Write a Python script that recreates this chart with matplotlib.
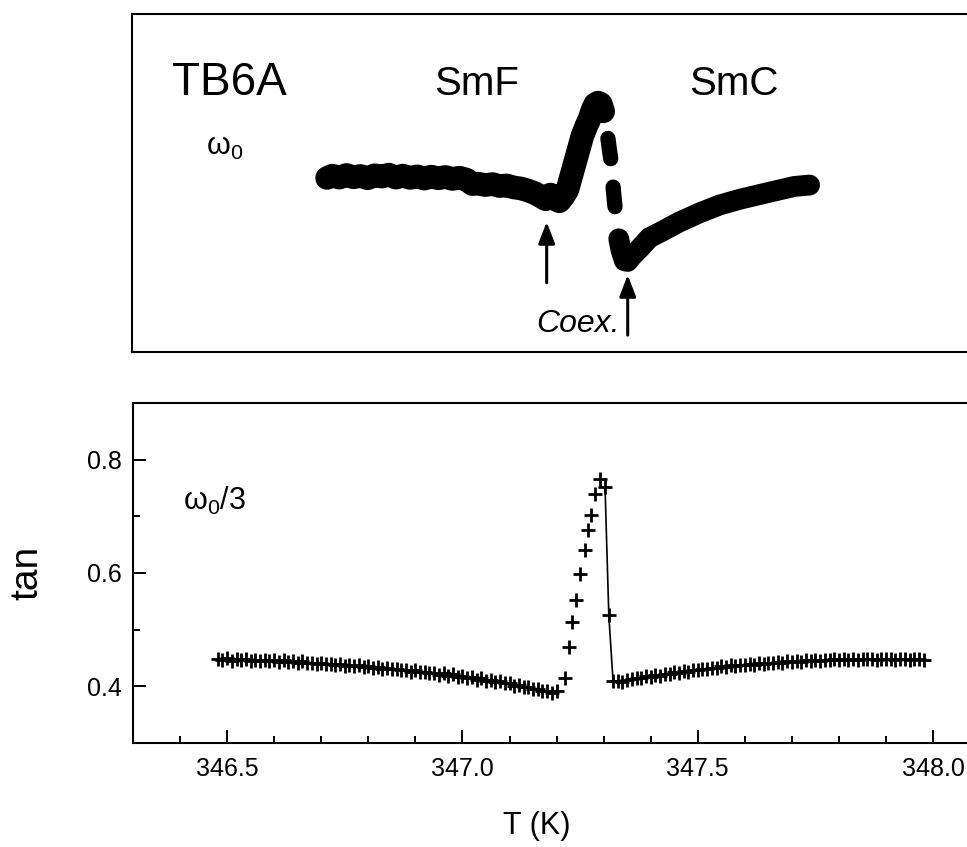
import numpy as np
import matplotlib
matplotlib.use("Agg")
import matplotlib.pyplot as plt
from matplotlib.ticker import MultipleLocator, FixedLocator

plt.rcParams['font.family'] = ['Liberation Sans', 'DejaVu Sans']
plt.rcParams['mathtext.fontset'] = 'custom'
plt.rcParams['mathtext.rm'] = 'Liberation Sans'
plt.rcParams['mathtext.it'] = 'Liberation Sans'

# ---- omega_0 trace (arbitrary units) ----
t_smf = [346.714, 346.725, 346.740, 346.755, 346.770, 346.785, 346.800, 346.815,
         346.830, 346.845, 346.860, 346.875, 346.890, 346.905, 346.920, 346.935,
         346.950, 346.965, 346.980, 346.995, 347.010, 347.022, 347.035, 347.050,
         347.065, 347.080, 347.095, 347.110, 347.125, 347.140, 347.155, 347.168,
         347.178, 347.188, 347.198, 347.207, 347.216, 347.224, 347.232, 347.240,
         347.248, 347.256, 347.264, 347.271, 347.277, 347.283, 347.289, 347.295,
         347.300]
s_smf = [0.515, 0.522, 0.516, 0.524, 0.517, 0.521, 0.514, 0.523,
         0.519, 0.525, 0.516, 0.522, 0.515, 0.520, 0.513, 0.519,
         0.514, 0.518, 0.512, 0.516, 0.510, 0.497, 0.498, 0.494,
         0.497, 0.491, 0.493, 0.487, 0.484, 0.478, 0.470, 0.460,
         0.452, 0.466, 0.452, 0.446, 0.462, 0.480, 0.520, 0.560,
         0.600, 0.640, 0.668, 0.690, 0.715, 0.733, 0.738, 0.734,
         0.712]
t_gap1 = [347.310, 347.313, 347.316]
s_gap1 = [0.632, 0.600, 0.572]
t_gap2 = [347.321, 347.323, 347.325]
s_gap2 = [0.488, 0.458, 0.430]
t_smc = [347.333, 347.338, 347.345, 347.352, 347.360, 347.377, 347.398, 347.430,
         347.462, 347.505, 347.547, 347.590, 347.632, 347.675, 347.706, 347.738]
s_smc = [0.335, 0.300, 0.270, 0.268, 0.282, 0.306, 0.338, 0.361,
         0.385, 0.412, 0.435, 0.452, 0.466, 0.480, 0.490, 0.494]

# ---- tan at omega_0/3 ----
t_low = [346.48, 346.49, 346.50, 346.51, 346.52, 346.53, 346.54, 346.55, 346.56,
         346.57, 346.58, 346.59, 346.60, 346.61, 346.62, 346.63, 346.64, 346.65,
         346.66, 346.67, 346.68, 346.69, 346.70, 346.71, 346.72, 346.73, 346.74,
         346.75, 346.76, 346.77, 346.78, 346.79, 346.80, 346.81, 346.82, 346.83,
         346.84, 346.85, 346.86, 346.87, 346.88, 346.89, 346.90, 346.91, 346.92,
         346.93, 346.94, 346.95, 346.96, 346.97, 346.98, 346.99, 347.00, 347.01,
         347.02, 347.03, 347.04, 347.05, 347.06, 347.07, 347.08, 347.09, 347.10,
         347.11, 347.12, 347.13, 347.14, 347.15, 347.16, 347.17, 347.18, 347.19,
         347.20]
tan_low = [0.449, 0.446, 0.450, 0.445, 0.448, 0.446, 0.449, 0.445, 0.447,
           0.444, 0.447, 0.445, 0.446, 0.443, 0.446, 0.443, 0.444, 0.441,
           0.444, 0.441, 0.442, 0.440, 0.442, 0.439, 0.440, 0.437, 0.439,
           0.436, 0.438, 0.435, 0.437, 0.434, 0.435, 0.432, 0.434, 0.431,
           0.432, 0.430, 0.431, 0.428, 0.429, 0.426, 0.428, 0.425, 0.426,
           0.423, 0.424, 0.420, 0.423, 0.419, 0.421, 0.417, 0.419, 0.415,
           0.416, 0.412, 0.414, 0.410, 0.411, 0.407, 0.409, 0.405, 0.405,
           0.401, 0.402, 0.398, 0.399, 0.395, 0.396, 0.392, 0.391, 0.388,
           0.392]
t_peak = [347.218, 347.226, 347.233, 347.241, 347.250, 347.260, 347.267,
          347.273, 347.282, 347.292, 347.303, 347.311]
tan_peak = [0.414, 0.469, 0.513, 0.552, 0.599, 0.641, 0.675,
            0.703, 0.740, 0.765, 0.751, 0.525]
t_high = [347.32, 347.33, 347.34, 347.35, 347.36, 347.37, 347.38, 347.39, 347.40,
          347.41, 347.42, 347.43, 347.44, 347.45, 347.46, 347.47, 347.48, 347.49,
          347.50, 347.51, 347.52, 347.53, 347.54, 347.55, 347.56, 347.57, 347.58,
          347.59, 347.60, 347.61, 347.62, 347.63, 347.64, 347.65, 347.66, 347.67,
          347.68, 347.69, 347.70, 347.71, 347.72, 347.73, 347.74, 347.75, 347.76,
          347.77, 347.78, 347.79, 347.80, 347.81, 347.82, 347.83, 347.84, 347.85,
          347.86, 347.87, 347.88, 347.89, 347.90, 347.91, 347.92, 347.93, 347.94,
          347.95, 347.96, 347.97, 347.98]
tan_high = [0.409, 0.410, 0.408, 0.412, 0.413, 0.415, 0.414, 0.418, 0.417,
            0.420, 0.419, 0.422, 0.421, 0.425, 0.424, 0.427, 0.426, 0.429,
            0.428, 0.431, 0.430, 0.433, 0.432, 0.435, 0.434, 0.437, 0.435,
            0.438, 0.437, 0.440, 0.438, 0.441, 0.440, 0.442, 0.441, 0.443,
            0.442, 0.444, 0.443, 0.445, 0.443, 0.446, 0.444, 0.447, 0.445,
            0.447, 0.446, 0.448, 0.446, 0.448, 0.447, 0.449, 0.447, 0.449,
            0.448, 0.448, 0.447, 0.449, 0.448, 0.448, 0.447, 0.448, 0.448,
            0.447, 0.448, 0.448, 0.447]

x_ticks = [346.5, 347.0, 347.5, 348.0]
x_labels = ['346.5', '347.0', '347.5', '348.0']
y_ticks = [0.4, 0.6, 0.8]
y_labels = ['0.4', '0.6', '0.8']

XMIN, XMAX = 346.3, 348.11

fig = plt.figure(figsize=(9.67, 8.47), dpi=100)
ax1 = fig.add_axes([0.1365, 0.5844, 0.882, 0.399])
ax2 = fig.add_axes([0.1375, 0.1228, 0.881, 0.4014])

# upper panel: raw trace, drawn as a thick pen line
ax1.plot(t_smf, s_smf, color='black', lw=17, solid_capstyle='round',
         solid_joinstyle='round')
ax1.plot(t_gap1, s_gap1, color='black', lw=11, solid_capstyle='round')
ax1.plot(t_gap2, s_gap2, color='black', lw=11, solid_capstyle='round')
ax1.plot(t_smc, s_smc, color='black', lw=15, solid_capstyle='round',
         solid_joinstyle='round')
ax1.set_xlim(XMIN, XMAX)
ax1.set_ylim(0, 1)
ax1.set_xticks([])
ax1.set_yticks([])
for side in ['left', 'top', 'bottom', 'right']:
    ax1.spines[side].set_linewidth(1.5)

ax1.text(346.385, 0.76, 'TB6A', fontsize=33, va='baseline', ha='left')
ax1.text(346.942, 0.76, 'SmF', fontsize=29, va='baseline', ha='left')
ax1.text(347.483, 0.76, 'SmC', fontsize=29, va='baseline', ha='left')
ax1.text(346.457, 0.583, r'$\mathregular{\omega_0}$', fontsize=22,
         va='baseline', ha='left')

arrow = dict(arrowstyle='-|>,head_length=1.3,head_width=0.5', lw=2.2,
             color='black', shrinkA=0, shrinkB=0)
ax1.annotate('', xy=(347.18, 0.385), xytext=(347.18, 0.205), arrowprops=arrow)
ax1.annotate('', xy=(347.352, 0.228), xytext=(347.352, 0.05), arrowprops=arrow)
ax1.text(347.336, 0.058, 'Coex.', fontsize=23, style='italic',
         va='baseline', ha='right')

# lower panel: tan at omega_0/3
ax2.plot(t_low, tan_low, color='black', lw=1.4)
ax2.plot([t_peak[-2], t_peak[-1]] + t_high,
         [tan_peak[-2], tan_peak[-1]] + tan_high, color='black', lw=1.2)
ax2.plot(t_low + t_peak + t_high, tan_low + tan_peak + tan_high,
         ls='none', marker='+', ms=10, mew=2.0, color='black')

ax2.set_xlim(XMIN, XMAX)
ax2.set_ylim(0.3, 0.9)
ax2.xaxis.set_major_locator(FixedLocator(x_ticks))
ax2.set_xticklabels(x_labels)
ax2.xaxis.set_minor_locator(MultipleLocator(0.1))
ax2.yaxis.set_major_locator(FixedLocator(y_ticks))
ax2.set_yticklabels(y_labels)
ax2.yaxis.set_minor_locator(FixedLocator([0.5, 0.7]))
ax2.tick_params(which='both', direction='in', width=1.4, labelsize=18,
                top=False, right=False)
ax2.tick_params(which='major', length=9.5)
ax2.tick_params(which='minor', length=5)
ax2.tick_params(axis='x', which='major', pad=10)
ax2.tick_params(axis='y', which='major', pad=8)
for side in ['left', 'top', 'bottom', 'right']:
    ax2.spines[side].set_linewidth(1.5)

ax2.text(346.406, 0.712, r'$\mathregular{\omega_0/3}$', fontsize=22,
         va='baseline', ha='left')

fig.text(27 / 967, 1 - 573 / 847, 'tan', rotation=90, fontsize=28,
         ha='center', va='center')
fig.text(537 / 967, 1 - 826 / 847, 'T (K)', fontsize=22,
         ha='center', va='center')

fig.savefig('out.png', dpi=100)
